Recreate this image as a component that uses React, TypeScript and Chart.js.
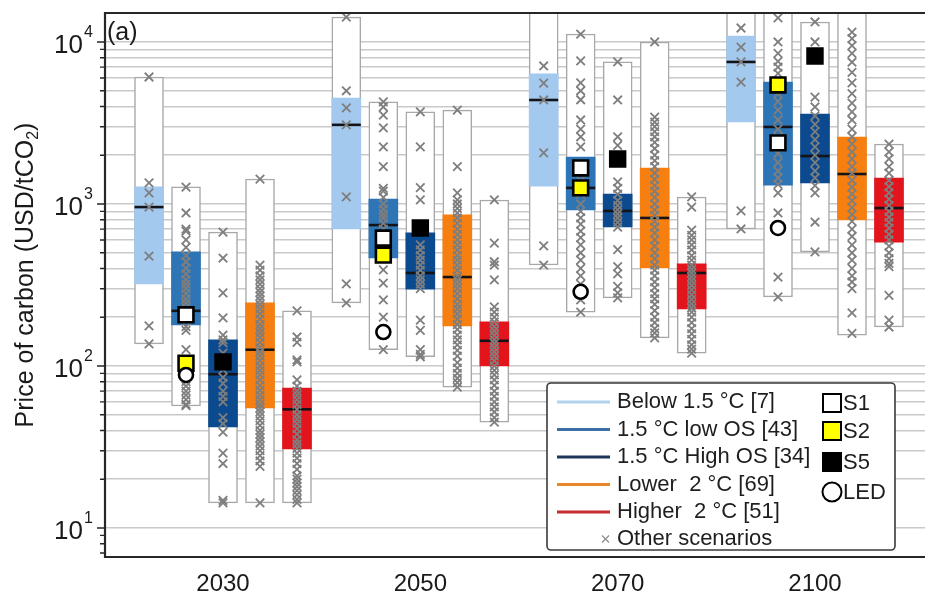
import React, { useEffect, useRef } from 'react';
import { Chart, registerables } from 'chart.js';

Chart.register(...registerables);

// ---------------- data ----------------
const years = ['2030', '2050', '2070', '2100'];
const categories = [
  'Below 1.5 °C [7]',
  '1.5 °C low OS [43]',
  '1.5 °C High OS [34]',
  'Lower  2 °C [69]',
  'Higher  2 °C [51]',
];
const markerLabels = ['S1', 'S2', 'S5', 'LED'];
const otherLabel = 'Other scenarios';
const panelLabel = '(a)';
const yTitle = 'Price of carbon (USD/tCO';
const yTitleSub = '2';
const yTitleEnd = ')';
const yLabelExponents = [1, 2, 3, 4];
const yTickMultipliers = [1, 2, 3, 4, 5, 6, 7, 8, 9];

// rows: years, columns: categories
const boxMin = [
  [137, 56.6, 14.3, 14.3, 14.3],
  [245, 126, 114, 74, 45],
  [420, 215, 263, 149, 120],
  [701, 267, 506, 155, 174],
];
const boxQ1 = [
  [321, 179, 42, 55, 30.8],
  [701, 464, 298, 177, 100],
  [1290, 919, 721, 403, 225],
  [3210, 1309, 1350, 796, 582],
];
const boxMedian = [
  [957, 219, 89, 126, 54],
  [3080, 741, 375, 354, 143],
  [4385, 1257, 906, 820, 375],
  [7530, 2990, 1977, 1531, 944],
];
const boxQ3 = [
  [1274, 506, 145, 245, 73],
  [4510, 1074, 663, 856, 187],
  [6350, 1950, 1153, 1668, 427],
  [10890, 5660, 3590, 2590, 1446],
];
const boxMax = [
  [6080, 1274, 671, 1426, 219],
  [14260, 4270, 3700, 3800, 1059],
  [16500, 11200, 7530, 10000, 1105],
  [16500, 16500, 13290, 16500, 2345],
];

// individual scenarios per year, per category
const others2030 = [
  [6080, 1350, 1170, 957, 477, 177, 137],
  [1270, 880, 700, 680, 600, 540, 480, 440, 400, 370, 340, 320, 300, 280, 260, 245, 230, 215, 200, 190, 175, 166, 126, 80, 75, 70, 66, 62, 58, 57],
  [671, 464, 283, 198, 155, 145, 139, 120, 108, 95, 85, 78, 70, 65, 60, 48, 44, 39, 29, 25, 14.8, 14.3],
  [1426, 420, 390, 360, 340, 320, 300, 285, 270, 255, 240, 225, 210, 195, 180, 170, 160, 150, 140, 130, 122, 115, 108, 100, 94, 88, 82, 76, 71, 66, 62, 58, 55, 52, 49, 46, 43, 40, 38, 36, 34, 32, 30, 28, 26, 24, 14.3],
  [219, 151, 140, 109, 106, 82, 75, 70, 66, 62, 58, 54, 50, 47, 44, 41, 38, 35, 33, 31, 29, 27, 25, 23, 21, 20, 19, 18, 17, 16, 15, 14.3],
];
const others2050 = [
  [14260, 5000, 3920, 3080, 1105, 321, 245],
  [4270, 3970, 3540, 2950, 2250, 1700, 1250, 1200, 1100, 1000, 930, 870, 820, 760, 700, 650, 560, 392, 325, 256, 200, 126],
  [3700, 2250, 1260, 1060, 560, 520, 480, 450, 420, 390, 360, 340, 320, 300, 192, 166, 126, 118, 114],
  [3800, 1700, 1170, 1060, 1000, 940, 880, 820, 760, 700, 650, 600, 560, 520, 480, 450, 420, 390, 360, 340, 320, 300, 280, 260, 240, 225, 210, 195, 180, 168, 155, 145, 135, 125, 115, 105, 97, 90, 84, 79, 74],
  [1059, 574, 440, 420, 340, 232, 215, 200, 187, 175, 165, 155, 145, 138, 130, 122, 115, 108, 100, 94, 88, 82, 76, 70, 65, 60, 56, 52, 48, 45],
];
const others2070 = [
  [7110, 5580, 4385, 2066, 551, 420],
  [11200, 7640, 5600, 5000, 4400, 3300, 2900, 2600, 2250, 1600, 1400, 1150, 1000, 900, 820, 750, 680, 620, 560, 500, 450, 400, 360, 320, 290, 256, 215],
  [7530, 4385, 2600, 2300, 1370, 1250, 1150, 1050, 980, 920, 870, 820, 770, 720, 522, 411, 370, 310, 283, 263],
  [10000, 3440, 3200, 3000, 2800, 2600, 2400, 2200, 2000, 1850, 1700, 1550, 1420, 1300, 1200, 1100, 1000, 920, 850, 780, 720, 660, 600, 550, 500, 460, 420, 390, 360, 330, 305, 280, 260, 240, 220, 200, 185, 170, 160, 149],
  [1105, 957, 690, 640, 600, 560, 520, 480, 450, 420, 395, 375, 355, 335, 315, 295, 275, 258, 242, 228, 215, 200, 185, 170, 158, 146, 135, 127, 120],
];
const others2100 = [
  [12200, 9310, 7530, 5660, 906, 701],
  [14070, 10000, 8500, 7600, 7000, 6400, 5400, 4800, 4300, 3800, 3300, 2900, 2600, 2300, 2050, 1800, 1600, 1450, 1320, 1170, 880, 354, 267],
  [13290, 10000, 4570, 3970, 3500, 3100, 2800, 2500, 2250, 2000, 1800, 1600, 1450, 1300, 1170, 774, 506],
  [11500, 10500, 9500, 8500, 7500, 6500, 5600, 4800, 4200, 3700, 3300, 2900, 2600, 2350, 2100, 1900, 1700, 1550, 1400, 1270, 1150, 1050, 950, 860, 780, 700, 630, 560, 500, 450, 400, 360, 330, 300, 213, 159],
  [2345, 2100, 1900, 1700, 1550, 1400, 1280, 1170, 1070, 980, 900, 830, 770, 710, 650, 600, 550, 500, 460, 430, 410, 273, 192, 174],
];
const othersByYear = [others2030, others2050, others2070, others2100];

// illustrative pathways (per year)
const s1Values = [207, 616, 1668, 2384];
const s2Values = [104, 484, 1257, 5430];
const s5Values = [106, 711, 1897, 8200];
const ledValues = [88, 162, 287, 711];
const s1Category = 1;
const s2Category = 1;
const s5Category = 2;
const ledCategory = 1;

// ---------------- styles ----------------
const iqrColors = ['#a3c9ef', '#2e75b6', '#0b4a8e', '#f77f10', '#e3141c'];
const legendLineColors = ['#b3d2ee', '#3b6fa6', '#1d3658', '#e8862c', '#c92a30'];
const FONT = '"Liberation Sans", Arial, Helvetica, sans-serif';
const BOX_STEP = 0.1875;
const X_MIN = -0.598;
const X_MAX = 3.5575;
const Y_MIN = 6.62;
const Y_MAX = 15100;

const xPos = (g: number, c: number) => g + (c - 2) * BOX_STEP;

const yTickValues: number[] = [];
for (let e = 0; e <= 4; e++) {
  for (const m of yTickMultipliers) {
    const v = m * Math.pow(10, e);
    if (v >= Y_MIN && v <= Y_MAX) yTickValues.push(v);
  }
}

function buildDatasets() {
  const rangeData: any[] = [];
  const iqrData: any[] = [];
  const iqrBg: string[] = [];
  const medData: any[] = [];
  const crossData: any[] = [];
  years.forEach((_, g) => {
    categories.forEach((__, c) => {
      const x = xPos(g, c);
      rangeData.push({ x, y: [boxMin[g][c], boxMax[g][c]] });
      iqrData.push({ x, y: [boxQ1[g][c], boxQ3[g][c]] });
      iqrBg.push(iqrColors[c]);
      medData.push({ x, y: boxMedian[g][c] });
      othersByYear[g][c].forEach((v) => crossData.push({ x, y: v }));
    });
  });
  const marker = (vals: number[], cat: number) => vals.map((v, g) => ({ x: xPos(g, cat), y: v }));
  return [
    {
      type: 'bar', label: 'range', data: rangeData, backgroundColor: '#ffffff',
      borderColor: '#a8a8a8', borderWidth: 1.5, borderSkipped: false,
      grouped: false, barPercentage: 1, categoryPercentage: 1, maxBarThickness: 29, clip: 0, order: 10,
    },
    {
      type: 'bar', label: 'iqr', data: iqrData, backgroundColor: iqrBg, borderWidth: 0,
      grouped: false, barPercentage: 1, categoryPercentage: 1, maxBarThickness: 29, clip: 0, order: 9,
    },
    {
      type: 'scatter', label: 'median', data: medData, pointStyle: 'line', pointRadius: 14.5,
      pointBorderColor: '#141418', pointBorderWidth: 2.6, order: 8,
    },
    {
      type: 'scatter', label: otherLabel, data: crossData, pointStyle: 'crossRot', pointRadius: 6,
      pointBorderColor: '#7e7e7e', pointBorderWidth: 1.8, order: 7,
    },
    {
      type: 'scatter', label: markerLabels[0], data: marker(s1Values, s1Category), pointStyle: 'rect',
      pointRadius: 10.5, pointBackgroundColor: '#ffffff', pointBorderColor: '#000000', pointBorderWidth: 2.6, order: 3,
    },
    {
      type: 'scatter', label: markerLabels[1], data: marker(s2Values, s2Category), pointStyle: 'rect',
      pointRadius: 10.5, pointBackgroundColor: '#ffff00', pointBorderColor: '#000000', pointBorderWidth: 2.6, order: 2,
    },
    {
      type: 'scatter', label: markerLabels[2], data: marker(s5Values, s5Category), pointStyle: 'rect',
      pointRadius: 10.5, pointBackgroundColor: '#000000', pointBorderColor: '#000000', pointBorderWidth: 2.6, order: 1,
    },
    {
      type: 'scatter', label: markerLabels[3], data: marker(ledValues, ledCategory), pointStyle: 'circle',
      pointRadius: 7, pointBackgroundColor: '#ffffff', pointBorderColor: '#000000', pointBorderWidth: 2.6, order: 0,
    },
  ];
}

const decor = {
  id: 'decor',
  afterDraw(chart: any) {
    const { ctx, chartArea: a } = chart;
    const ys = chart.scales.y;
    const xs = chart.scales.x;
    ctx.save();

    // y tick marks
    ctx.strokeStyle = '#262626';
    ctx.lineWidth = 1.4;
    ctx.beginPath();
    yTickValues.forEach((v) => {
      const py = ys.getPixelForValue(v);
      const lg = Math.log10(v);
      const major = Math.abs(lg - Math.round(lg)) < 1e-9;
      ctx.moveTo(a.left - (major ? 8 : 5), py);
      ctx.lineTo(a.left, py);
    });
    ctx.stroke();

    // frame
    ctx.lineWidth = 2.2;
    ctx.beginPath();
    ctx.moveTo(a.right, a.top);
    ctx.lineTo(a.left, a.top);
    ctx.lineTo(a.left, a.bottom);
    ctx.lineTo(a.right, a.bottom);
    ctx.stroke();

    ctx.fillStyle = '#1a1a1a';
    // y labels
    yLabelExponents.forEach((e) => {
      const py = ys.getPixelForValue(Math.pow(10, e));
      ctx.font = `26px ${FONT}`;
      ctx.textAlign = 'right';
      ctx.textBaseline = 'middle';
      ctx.fillText('10', a.left - 22, py + 4);
      ctx.font = `16px ${FONT}`;
      ctx.textAlign = 'left';
      ctx.fillText(String(e), a.left - 21, py - 9);
    });

    // x labels
    ctx.font = `24px ${FONT}`;
    ctx.textAlign = 'center';
    ctx.textBaseline = 'middle';
    years.forEach((yr, g) => {
      ctx.fillText(yr, xs.getPixelForValue(g), a.bottom + 27);
    });

    // y title
    ctx.save();
    ctx.translate(33, 275);
    ctx.rotate(-Math.PI / 2);
    ctx.textBaseline = 'alphabetic';
    ctx.textAlign = 'left';
    ctx.font = `25px ${FONT}`;
    const w1 = ctx.measureText(yTitle).width;
    const w3 = ctx.measureText(yTitleEnd).width;
    ctx.font = `16px ${FONT}`;
    const w2 = ctx.measureText(yTitleSub).width;
    const total = w1 + w2 + w3;
    let tx = -total / 2;
    ctx.font = `25px ${FONT}`;
    ctx.fillText(yTitle, tx, 0);
    tx += w1;
    ctx.font = `16px ${FONT}`;
    ctx.fillText(yTitleSub, tx, 5);
    tx += w2;
    ctx.font = `25px ${FONT}`;
    ctx.fillText(yTitleEnd, tx, 0);
    ctx.restore();

    // panel label
    ctx.font = `25px ${FONT}`;
    ctx.textAlign = 'left';
    ctx.textBaseline = 'middle';
    ctx.fillText(panelLabel, a.left + 2, a.top + 20);

    // legend
    const L = 547, T = 383, R = 895, B = 550;
    ctx.beginPath();
    if (ctx.roundRect) ctx.roundRect(L, T, R - L, B - T, 4);
    else ctx.rect(L, T, R - L, B - T);
    ctx.fillStyle = '#ffffff';
    ctx.fill();
    ctx.strokeStyle = '#3a3a3a';
    ctx.lineWidth = 1.6;
    ctx.stroke();

    const rowY = [402, 429.5, 457, 484.5, 512];
    ctx.font = `22px ${FONT}`;
    ctx.textAlign = 'left';
    ctx.textBaseline = 'middle';
    categories.forEach((name, i) => {
      ctx.strokeStyle = legendLineColors[i];
      ctx.lineWidth = 3;
      ctx.beginPath();
      ctx.moveTo(557, rowY[i]);
      ctx.lineTo(610, rowY[i]);
      ctx.stroke();
      ctx.fillStyle = '#1e1e1e';
      ctx.fillText(name, 617, rowY[i]);
    });
    // other scenarios
    const oy = 539;
    ctx.strokeStyle = '#8e8e8e';
    ctx.lineWidth = 1.3;
    ctx.beginPath();
    ctx.moveTo(602, oy - 3.5); ctx.lineTo(609, oy + 3.5);
    ctx.moveTo(609, oy - 3.5); ctx.lineTo(602, oy + 3.5);
    ctx.stroke();
    ctx.fillStyle = '#1e1e1e';
    ctx.fillText(otherLabel, 617, oy);

    // marker legend
    const mY = [403, 431, 462, 492];
    const mFill = ['#ffffff', '#ffff00', '#000000'];
    for (let i = 0; i < 3; i++) {
      ctx.fillStyle = mFill[i];
      ctx.fillRect(823, mY[i] - 9, 18, 18);
      ctx.strokeStyle = '#000000';
      ctx.lineWidth = 2;
      ctx.strokeRect(823, mY[i] - 9, 18, 18);
    }
    ctx.beginPath();
    ctx.arc(832, mY[3], 9.5, 0, Math.PI * 2);
    ctx.fillStyle = '#ffffff';
    ctx.fill();
    ctx.lineWidth = 2;
    ctx.strokeStyle = '#000000';
    ctx.stroke();
    ctx.fillStyle = '#1e1e1e';
    markerLabels.forEach((lbl, i) => {
      ctx.fillText(lbl, 843, mY[i] + 1);
    });

    ctx.restore();
  },
};

export default function App() {
  const ref = useRef<HTMLCanvasElement>(null);
  useEffect(() => {
    if (!ref.current) return;
    const chart = new Chart(ref.current, {
      type: 'bar',
      data: { datasets: buildDatasets() as any },
      options: {
        animation: false,
        responsive: false,
        maintainAspectRatio: false,
        devicePixelRatio: 1,
        layout: { autoPadding: false, padding: { left: 105, top: 13, right: 0, bottom: 40 } },
        plugins: { legend: { display: false }, tooltip: { enabled: false }, title: { display: false } },
        scales: {
          x: {
            type: 'linear',
            offset: false,
            min: X_MIN,
            max: X_MAX,
            grid: { display: false, offset: false },
            border: { display: false },
            ticks: { display: false },
            afterBuildTicks: (s: any) => { s.ticks = years.map((_, g) => ({ value: g })); },
            afterFit: (s: any) => { s.height = 0; },
          },
          y: {
            type: 'logarithmic',
            min: Y_MIN,
            max: Y_MAX,
            grid: {
              color: (c: any) => (c.tick && c.tick.value >= 10 ? '#c9c9c9' : 'rgba(0,0,0,0)'),
              lineWidth: 1.6,
              drawTicks: false,
            },
            border: { display: false },
            ticks: { display: false },
            afterBuildTicks: (s: any) => { s.ticks = yTickValues.map((v) => ({ value: v })); },
            afterFit: (s: any) => { s.width = 0; },
          },
        },
      } as any,
      plugins: [decor],
    });
    return () => chart.destroy();
  }, []);
  return (
    <div style={{ position: 'absolute', left: 0, top: 0, width: 925, height: 597, background: '#ffffff' }}>
      <canvas ref={ref} width={925} height={597} style={{ display: 'block', width: 925, height: 597 }} />
    </div>
  );
}
